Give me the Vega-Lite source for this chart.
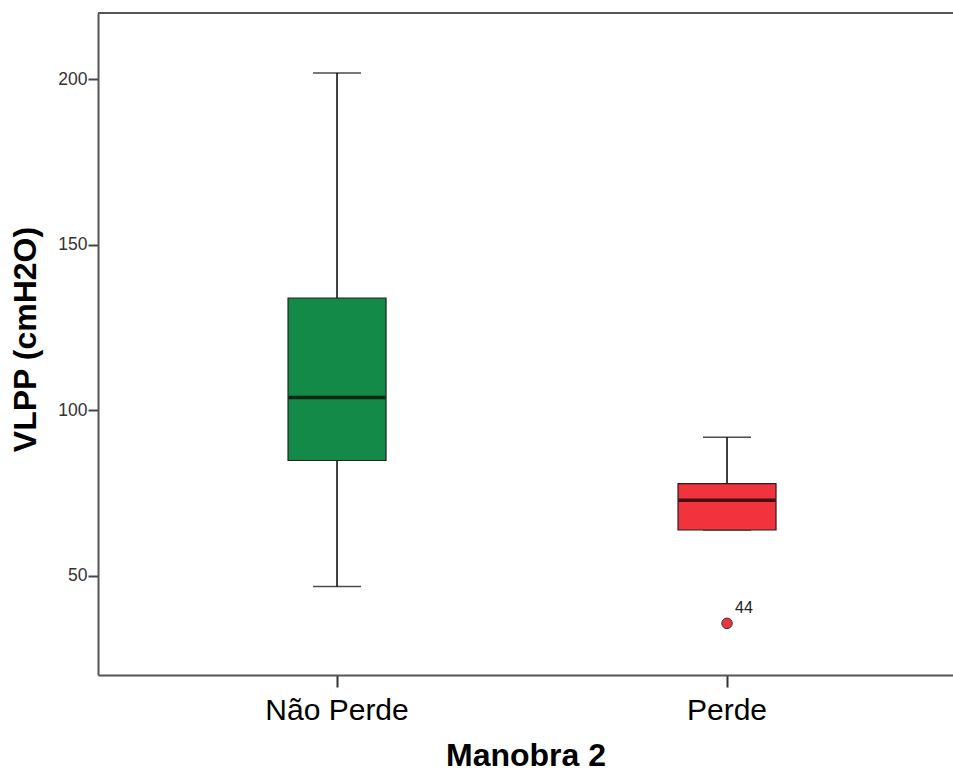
{
  "$schema": "https://vega.github.io/schema/vega-lite/v6.json",
  "autosize": {"type": "none"},
  "padding": {"left": 98, "top": 13, "right": 0, "bottom": 97},
  "width": 855,
  "height": 662,
  "config": {
    "view": {"stroke": null},
    "font": "Liberation Sans",
    "axis": {"grid": false}
  },
  "datasets": {
    "boxes": [
      {"group": "Não Perde", "lower": 46.7, "q1": 84.8, "median": 103.8, "q3": 133.9, "upper": 201.9},
      {"group": "Perde", "lower": 63.8, "q1": 63.8, "median": 72.8, "q3": 77.8, "upper": 91.8}
    ],
    "outliers": [
      {"group": "Perde", "value": 35.6, "case": "44"}
    ]
  },
  "layer": [
    {
      "data": {"name": "boxes"},
      "mark": {"type": "rule", "color": "#000000", "strokeWidth": 1.5},
      "encoding": {
        "x": {
          "field": "group", "type": "nominal", "title": "Manobra 2",
          "scale": {"type": "band", "domain": ["Não Perde", "Perde"], "paddingInner": 0, "paddingOuter": 0.0962, "align": 0.587},
          "axis": {
            "labelAngle": 0, "labelFontSize": 30, "labelColor": "#000000", "labelPadding": 8,
            "tickSize": 12, "tickColor": "#333333", "tickWidth": 2,
            "domainColor": "#555555", "domainWidth": 2,
            "titleFontSize": 32, "titleFontWeight": "bold", "titleColor": "#000000", "titlePadding": 15
          }
        },
        "y": {
          "field": "lower", "type": "quantitative", "title": "VLPP (cmH2O)",
          "scale": {"domain": [20, 220], "nice": false, "zero": false},
          "axis": {
            "values": [50, 100, 150, 200], "labelFontSize": 17.5, "labelColor": "#333333", "labelPadding": 1,
            "tickSize": 10, "tickColor": "#444444", "tickWidth": 2,
            "domainColor": "#555555", "domainWidth": 2,
            "titleFontSize": 32, "titleFontWeight": "bold", "titleColor": "#000000", "titlePadding": 15,
            "titleY": 326
          }
        },
        "y2": {"field": "upper"}
      }
    },
    {
      "data": {"name": "boxes"},
      "mark": {"type": "tick", "color": "#000000", "thickness": 1.5, "size": 48},
      "encoding": {
        "x": {"field": "group", "type": "nominal", "title": "Manobra 2"},
        "y": {"field": "upper", "type": "quantitative", "title": "VLPP (cmH2O)"}
      }
    },
    {
      "data": {"name": "boxes"},
      "mark": {"type": "tick", "color": "#000000", "thickness": 1.5, "size": 48},
      "encoding": {
        "x": {"field": "group", "type": "nominal", "title": "Manobra 2"},
        "y": {"field": "lower", "type": "quantitative", "title": "VLPP (cmH2O)"}
      }
    },
    {
      "data": {"name": "boxes"},
      "mark": {"type": "bar", "size": 98, "stroke": "#222222", "strokeWidth": 1.2},
      "encoding": {
        "x": {"field": "group", "type": "nominal", "title": "Manobra 2"},
        "y": {"field": "q1", "type": "quantitative", "title": "VLPP (cmH2O)"},
        "y2": {"field": "q3"},
        "color": {
          "field": "group", "type": "nominal", "legend": null,
          "scale": {"domain": ["Não Perde", "Perde"], "range": ["#138a47", "#f0333d"]}
        }
      }
    },
    {
      "data": {"name": "boxes"},
      "mark": {"type": "tick", "color": "#000000", "thickness": 3.5, "size": 97},
      "encoding": {
        "x": {"field": "group", "type": "nominal", "title": "Manobra 2"},
        "y": {"field": "median", "type": "quantitative", "title": "VLPP (cmH2O)"}
      }
    },
    {
      "data": {"name": "outliers"},
      "mark": {"type": "point", "shape": "circle", "filled": true, "size": 110, "fill": "#f0333d", "stroke": "#333333", "strokeWidth": 1, "opacity": 1},
      "encoding": {
        "x": {"field": "group", "type": "nominal", "title": "Manobra 2"},
        "y": {"field": "value", "type": "quantitative", "title": "VLPP (cmH2O)"}
      }
    },
    {
      "data": {"name": "outliers"},
      "mark": {"type": "text", "align": "left", "baseline": "alphabetic", "dx": 8, "dy": -10, "fontSize": 16, "color": "#222222"},
      "encoding": {
        "x": {"field": "group", "type": "nominal", "title": "Manobra 2"},
        "y": {"field": "value", "type": "quantitative", "title": "VLPP (cmH2O)"},
        "text": {"field": "case"}
      }
    },
    {
      "data": {"values": [{}]},
      "mark": {"type": "rule", "color": "#555555", "strokeWidth": 2},
      "encoding": {
        "y": {"datum": 220, "type": "quantitative", "title": "VLPP (cmH2O)"}
      }
    }
  ]
}
